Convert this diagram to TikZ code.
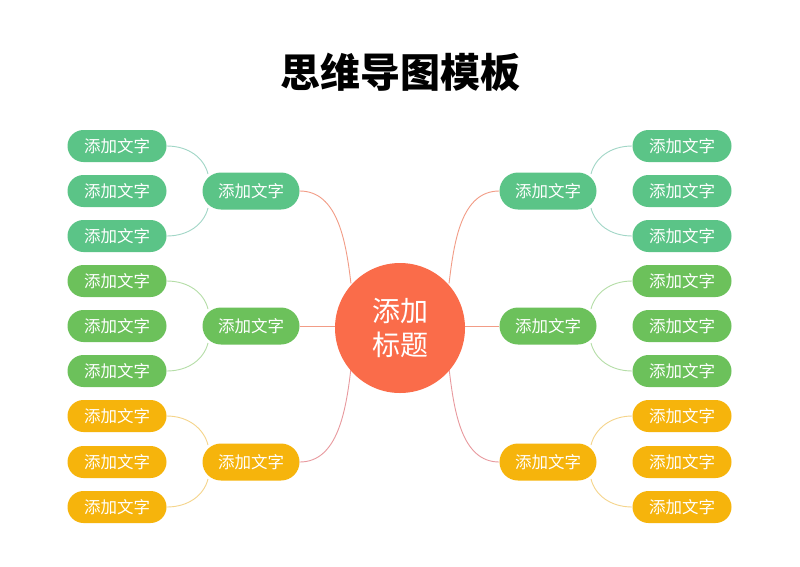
\documentclass[tikz,border=0pt]{standalone}
\usepackage{fontspec}
\setmainfont{Noto Sans CJK SC}
\newfontfamily\cjk{Noto Sans CJK SC}
\usetikzlibrary{calc}
\definecolor{cTeal}{RGB}{91,196,135}
\definecolor{cGreen}{RGB}{108,193,91}
\definecolor{cYellow}{RGB}{246,180,12}
\definecolor{cOrange}{RGB}{250,108,74}
\definecolor{lTeal}{RGB}{160,214,198}
\definecolor{lGreen}{RGB}{180,221,166}
\definecolor{lYellow}{RGB}{245,212,138}
\definecolor{lSalmon}{RGB}{242,156,134}
\definecolor{lPink}{RGB}{232,153,158}
\tikzset{
  leaf/.style={fill=#1, draw=none, text=white, minimum width=99pt, minimum height=32pt,
    rounded corners=16pt, inner sep=0pt, font=\cjk\fontsize{16.5}{20}\selectfont},
  branch/.style={fill=#1, draw=none, text=white, minimum width=97pt, minimum height=37pt,
    rounded corners=18.5pt, inner sep=0pt, font=\cjk\fontsize{16.5}{20}\selectfont},
  link/.style={draw=#1, line width=0.9pt},
}
\begin{document}
\begin{tikzpicture}[x=1pt,y=-1pt]
\useasboundingbox (0,0) rectangle (800,566);
\fill[white] (0,0) rectangle (800,566);
\node[font=\cjk\bfseries\fontsize{40}{48}\selectfont, text=black] (title) at (400,72) {思维导图模板};
% branches
\node[branch=cTeal] (bL1) at (251,191) {添加文字};
\node[branch=cGreen] (bL2) at (251,326) {添加文字};
\node[branch=cYellow] (bL3) at (251,462) {添加文字};
\node[branch=cTeal] (bR1) at (548,191) {添加文字};
\node[branch=cGreen] (bR2) at (548,326) {添加文字};
\node[branch=cYellow] (bR3) at (548,462) {添加文字};
% leaves
\foreach \i/\y/\c in {1/146/cTeal,2/191/cTeal,3/236/cTeal,4/281/cGreen,5/326/cGreen,6/371/cGreen,7/416/cYellow,8/462/cYellow,9/507/cYellow}{
  \node[leaf=\c] (lL\i) at (117,\y) {添加文字};
  \node[leaf=\c] (lR\i) at (682,\y) {添加文字};
}
% center connectors
\coordinate (c) at (400,326);
\coordinate (cTL) at ($(c)+(139:65 and -65)$);
\coordinate (cTR) at ($(c)+(41:65 and -65)$);
\coordinate (cBL) at ($(c)+(221:65 and -65)$);
\coordinate (cBR) at ($(c)+(319:65 and -65)$);
\draw[link=lSalmon] (bL1.east) .. controls +(38,0) and +(-5,-42) .. (cTL);
\draw[link=lSalmon] (bR1.west) .. controls +(-38,0) and +(5,-42) .. (cTR);
\draw[link=lSalmon] (bL2.east) -- ($(c)+(-65,0)$);
\draw[link=lSalmon] (bR2.west) -- ($(c)+(65,0)$);
\draw[link=lPink] (bL3.east) .. controls +(38,0) and +(-5,42) .. (cBL);
\draw[link=lPink] (bR3.west) .. controls +(-38,0) and +(5,42) .. (cBR);
\node[circle, fill=cOrange, minimum size=130pt, inner sep=0pt, text=white, align=center,
  font=\cjk\fontsize{28}{34}\selectfont] (center) at (400,328) {添加\\标题};
% leaf connectors
\foreach \b/\t/\bt/\col in {bL1/lL1/lL3/lTeal, bL2/lL4/lL6/lGreen, bL3/lL7/lL9/lYellow}{
  \draw[link=\col] (\t.east) .. controls +(22,0) and +(-4,-16) .. ($(\b.center)+(-43,-17)$);
  \draw[link=\col] (\bt.east) .. controls +(22,0) and +(-4,16) .. ($(\b.center)+(-43,17)$);
}
\foreach \b/\t/\bt/\col in {bR1/lR1/lR3/lTeal, bR2/lR4/lR6/lGreen, bR3/lR7/lR9/lYellow}{
  \draw[link=\col] (\t.west) .. controls +(-22,0) and +(4,-16) .. ($(\b.center)+(43,-17)$);
  \draw[link=\col] (\bt.west) .. controls +(-22,0) and +(4,16) .. ($(\b.center)+(43,17)$);
}
\end{tikzpicture}
\end{document}
